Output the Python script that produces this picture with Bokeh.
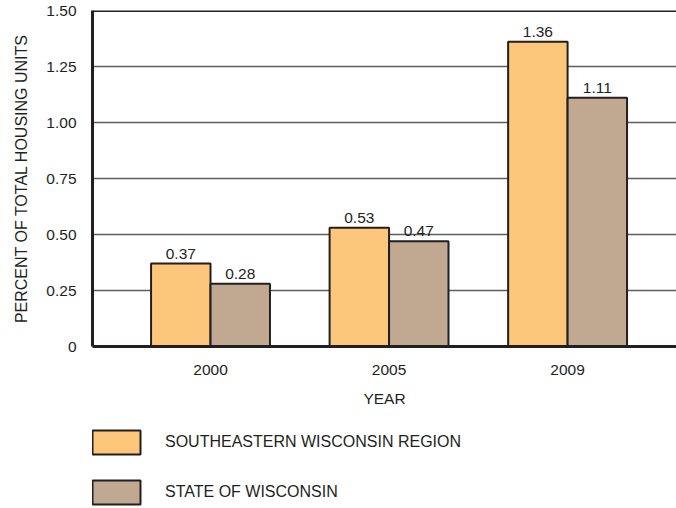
from bokeh.plotting import figure
from bokeh.layouts import column
from bokeh.models import (ColumnDataSource, FixedTicker, Range1d, Span,
                          Legend, LegendItem)
from bokeh.core.properties import value
from bokeh.embed import file_html
from bokeh.resources import INLINE

# Housing data: percent of total housing units
years = ["2000", "2005", "2009"]
se_region = [0.37, 0.53, 1.36]
state_wi = [0.28, 0.47, 1.11]
y_ticks = [0, 0.25, 0.50, 0.75, 1.00, 1.25, 1.50]
y_tick_labels = ["0", "0.25", "0.50", "0.75", "1.00", "1.25", "1.50"]
series_names = ["SOUTHEASTERN WISCONSIN REGION", "STATE OF WISCONSIN"]

FONT = "Liberation Sans"
INK = "#231f20"
SE_COLOR = "#FCC77B"
STATE_COLOR = "#C1A891"
BAR_W = 0.333

xs = list(range(len(years)))
se_x = [x - BAR_W / 2 for x in xs]
st_x = [x + BAR_W / 2 for x in xs]

src_se = ColumnDataSource(dict(x=se_x, top=se_region,
                               label=[f"{v:.2f}" for v in se_region]))
src_st = ColumnDataSource(dict(x=st_x, top=state_wi,
                               label=[f"{v:.2f}" for v in state_wi]))

bar_se = dict(fill_color=SE_COLOR, line_color=INK, line_width=2)
bar_st = dict(fill_color=STATE_COLOR, line_color=INK, line_width=2)

p = figure(width=676, height=420, output_backend="svg", toolbar_location=None,
           x_range=Range1d(-0.661, 2.61), y_range=Range1d(0, 1.5),
           min_border_left=92, min_border_right=0, min_border_top=10,
           min_border_bottom=74)
p.outline_line_color = None
p.background_fill_color = "white"
p.border_fill_color = "white"

p.vbar(x="x", top="top", width=BAR_W, source=src_se, **bar_se)
p.vbar(x="x", top="top", width=BAR_W, source=src_st, **bar_st)

for src in (src_se, src_st):
    p.text(x="x", y="top", text="label", source=src, text_align="center",
           text_baseline="bottom", y_offset=-5, text_font=value(FONT),
           text_font_size="15.5px", text_color=INK)

# top rule of the plotting area
p.add_layout(Span(location=y_ticks[-1], dimension="width",
                  line_color=INK, line_width=3))

# grid
p.xgrid.grid_line_color = None
p.ygrid.ticker = FixedTicker(ticks=y_ticks)
p.ygrid.grid_line_color = "#5e5e5e"
p.ygrid.grid_line_width = 1.5

# axes
p.yaxis.ticker = FixedTicker(ticks=y_ticks)
p.yaxis.major_label_overrides = {t: l for t, l in zip(y_ticks, y_tick_labels)}
p.xaxis.ticker = FixedTicker(ticks=xs)
p.xaxis.major_label_overrides = {x: y for x, y in zip(xs, years)}
p.xaxis.axis_label = "YEAR"
p.yaxis.axis_label = "PERCENT OF TOTAL HOUSING UNITS"

for ax in (p.xaxis[0], p.yaxis[0]):
    ax.axis_line_color = INK
    ax.axis_line_width = 3
    ax.major_tick_line_color = None
    ax.minor_tick_line_color = None
    ax.major_tick_out = 0
    ax.major_tick_in = 0
    ax.major_label_text_font = FONT
    ax.major_label_text_font_size = "15.5px"
    ax.major_label_text_color = INK
    ax.axis_label_text_font = FONT
    ax.axis_label_text_font_size = "15.5px"
    ax.axis_label_text_font_style = "normal"
    ax.axis_label_text_color = INK

p.yaxis.axis_label_text_font_size = "16px"
p.yaxis.major_label_standoff = 16
p.yaxis.axis_label_standoff = 13
p.xaxis.major_label_standoff = 18
p.xaxis.axis_label_standoff = 12

# legend strip beneath the chart; its renderers stay hidden and only
# supply the swatch styles
leg = figure(width=676, height=88, output_backend="svg", toolbar_location=None,
             x_range=Range1d(0, 1), y_range=Range1d(0, 1), min_border=0)
leg.axis.visible = False
leg.grid.visible = False
leg.outline_line_color = None
leg.border_fill_color = "white"
r_se = leg.vbar(x="x", top="top", width=BAR_W, source=src_se, visible=False,
                **bar_se)
r_st = leg.vbar(x="x", top="top", width=BAR_W, source=src_st, visible=False,
                **bar_st)

# swatches are inset 10% inside each glyph box
legend = Legend(items=[LegendItem(label=series_names[0], renderers=[r_se]),
                       LegendItem(label=series_names[1], renderers=[r_st])],
                location=(-6, 1), orientation="vertical",
                glyph_width=60, glyph_height=30, label_standoff=19,
                spacing=20, padding=0, margin=0,
                border_line_color=None, background_fill_alpha=0,
                inactive_fill_alpha=0,
                label_text_font=FONT, label_text_font_size="16px",
                label_text_color=INK)
leg.add_layout(legend, "center")

layout = column(p, leg, spacing=0)
open("out.html", "w").write(file_html(layout, INLINE))
